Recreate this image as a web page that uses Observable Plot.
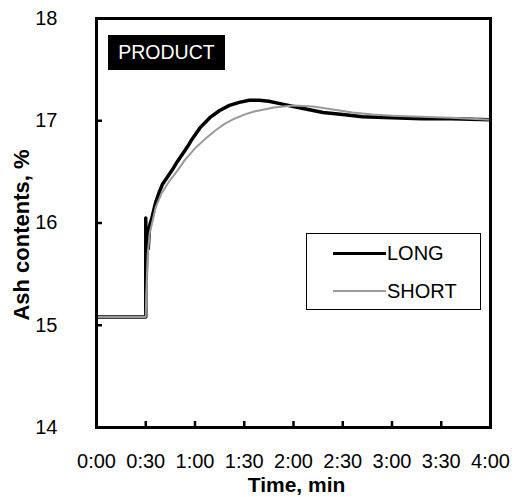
<!DOCTYPE html>
<html>
<head>
<meta charset="utf-8">
<script src="https://cdn.jsdelivr.net/npm/d3@7"></script>
<script src="https://cdn.jsdelivr.net/npm/@observablehq/plot@0.6"></script>
<style>
  html, body { margin: 0; padding: 0; background: #fff; }
  #chart { position: relative; width: 516px; height: 497px; font-family: "Liberation Sans", Arial, sans-serif; }
  #chart svg { display: block; }
  .tag {
    position: absolute; left: 108px; top: 35px; width: 117px; height: 35px;
    background: #000; color: #fff; font-size: 19.5px; line-height: 35px; text-align: center;
  }
  .legend {
    position: absolute; left: 306px; top: 233px; width: 175px; height: 77px;
    border: 1.5px solid #000; background: #fff; box-sizing: border-box;
  }
  .legend .row { position: absolute; left: 26px; height: 24px; display: flex; align-items: center; font-size: 20px; }
  .legend .swatch { width: 53px; margin-right: 1px; }
</style>
</head>
<body>
<div id="chart"></div>
<script>
// Time in minutes after start, ash content in %
const longTime = [0, 0.50, 0.50, 0.505, 0.515, 0.525, 0.54, 0.56, 0.58, 0.60, 0.64, 0.67, 0.72, 0.77, 0.82, 0.87, 0.92, 0.97, 1.05, 1.15, 1.25, 1.35, 1.45, 1.55, 1.65, 1.75, 1.85, 2.0, 2.15, 2.3, 2.5, 2.7, 3.0, 3.3, 3.6, 4.0];
const longAsh  = [15.08, 15.08, 16.05, 15.45, 15.95, 15.75, 15.98, 16.04, 16.12, 16.2, 16.31, 16.38, 16.45, 16.52, 16.6, 16.67, 16.74, 16.82, 16.93, 17.03, 17.1, 17.15, 17.18, 17.2, 17.2, 17.19, 17.17, 17.14, 17.11, 17.08, 17.06, 17.04, 17.03, 17.02, 17.02, 17.01];

const shortTime = [0, 0.50, 0.505, 0.52, 0.54, 0.56, 0.60, 0.66, 0.74, 0.82, 0.90, 1.0, 1.1, 1.2, 1.3, 1.4, 1.5, 1.6, 1.7, 1.8, 1.9, 2.0, 2.2, 2.4, 2.6, 2.8, 3.0, 3.3, 3.6, 4.0];
const shortAsh  = [15.08, 15.08, 15.3, 15.7, 15.9, 15.98, 16.15, 16.29, 16.41, 16.51, 16.62, 16.73, 16.82, 16.9, 16.97, 17.02, 17.06, 17.09, 17.11, 17.13, 17.14, 17.15, 17.14, 17.11, 17.08, 17.06, 17.05, 17.04, 17.03, 17.01];

const xTicks = [0, 0.5, 1, 1.5, 2, 2.5, 3, 3.5, 4];
const xTickLabels = ["0:00", "0:30", "1:00", "1:30", "2:00", "2:30", "3:00", "3:30", "4:00"];
const yTicks = [14, 15, 16, 17, 18];

const series = [
  {name: "LONG", color: "#000000", width: 3.5},
  {name: "SHORT", color: "#9a9a9a", width: 2}
];

const longData = longTime.map((t, i) => ({t, v: longAsh[i]}));
const shortData = shortTime.map((t, i) => ({t, v: shortAsh[i]}));

const font = "'Liberation Sans', Arial, sans-serif";
const W = 516, H = 497;
const M = {left: 96, right: 26, top: 18, bottom: 70};
const tickLen = 6;
const innerW = W - M.left - M.right;
const innerH = H - M.top - M.bottom;

const plot = Plot.plot({
  width: W,
  height: H,
  marginLeft: M.left,
  marginRight: M.right,
  marginTop: M.top,
  marginBottom: M.bottom,
  style: {fontFamily: font, background: "#fff", color: "#000"},
  x: {domain: [0, 4]},
  y: {domain: [14, 18]},
  marks: [
    // short tick marks pointing into the plot from the bottom and left edges
    Plot.tickX(xTicks, {x: d => d, insetTop: innerH - tickLen, stroke: "#000", strokeWidth: 2.5}),
    Plot.tickY(yTicks, {y: d => d, insetRight: innerW - tickLen, stroke: "#000", strokeWidth: 2.5}),
    Plot.axisX({
      ticks: xTicks,
      tickFormat: d => xTickLabels[xTicks.indexOf(d)],
      tickSize: 0,
      tickPadding: 26,
      fontSize: 20,
      label: null
    }),
    Plot.axisY({
      ticks: yTicks,
      tickFormat: d => String(d),
      tickSize: 0,
      tickPadding: 39,
      fontSize: 20,
      label: null
    }),
    Plot.line(longData, {x: "t", y: "v", stroke: series[0].color, strokeWidth: series[0].width, strokeLinejoin: "round"}),
    Plot.line(shortData, {x: "t", y: "v", stroke: series[1].color, strokeWidth: series[1].width, strokeLinejoin: "round"}),
    Plot.frame({stroke: "#000", strokeWidth: 3}),
    Plot.text(["Time, min"], {frameAnchor: "bottom", dy: 58, dx: 3, fontSize: 21, fontWeight: "bold", lineAnchor: "middle", textAnchor: "middle"}),
    Plot.text(["Ash contents, %"], {frameAnchor: "left", rotate: -90, dx: -75, dy: 12, fontSize: 22, fontWeight: "bold", lineAnchor: "middle", textAnchor: "middle"})
  ]
});

const chart = document.getElementById("chart");
chart.appendChild(plot);

// Panel tag
const tag = document.createElement("div");
tag.className = "tag";
tag.textContent = "PRODUCT";
chart.appendChild(tag);

// Legend
const legend = document.createElement("div");
legend.className = "legend";
series.forEach((s, i) => {
  const row = document.createElement("div");
  row.className = "row";
  row.style.top = (i === 0 ? 7 : 45) + "px";
  const sw = document.createElement("div");
  sw.className = "swatch";
  sw.style.borderTop = `${s.width}px solid ${s.color}`;
  row.appendChild(sw);
  const label = document.createElement("span");
  label.textContent = s.name;
  row.appendChild(label);
  legend.appendChild(row);
});
chart.appendChild(legend);
</script>
</body>
</html>
